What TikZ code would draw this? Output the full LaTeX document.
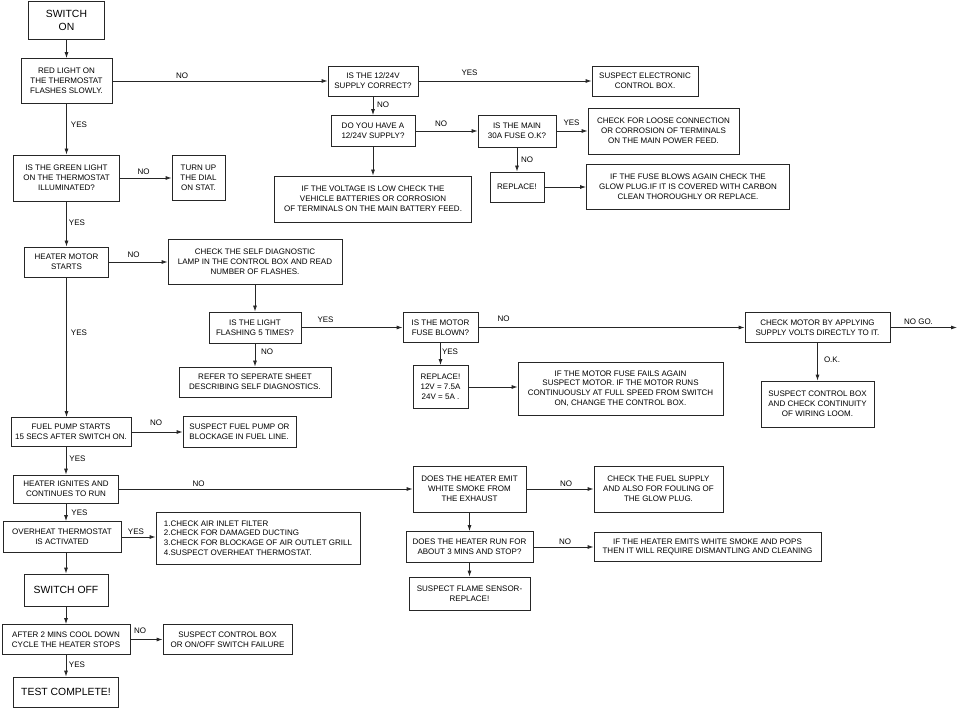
\documentclass[tikz,border=0pt]{standalone}
\usepackage{fontspec}
\setmainfont{Liberation Sans}
\usetikzlibrary{arrows.meta}

\begin{document}
\begin{tikzpicture}[x=1pt,y=1pt,yscale=-1,xscale=1,
    box/.style={draw=black!85, line width=0.8pt, align=center, inner sep=1pt, font=\fontsize{8}{9.8}\selectfont},
    bigbox/.style={box, font=\fontsize{10.4}{13}\selectfont},
    listbox/.style={box, align=left},
    arr/.style={draw=black!85, line width=0.8pt, -{Latex[length=6pt,width=4pt]}},
    lbl/.style={inner sep=0pt, font=\fontsize{8}{9.8}\selectfont}]
    %set diagram size to the reference page
    \useasboundingbox (0,0) rectangle (958,708);

    % Main column
    \node[bigbox, minimum width=76, minimum height=38] (on) at (66.5,20) {SWITCH\\ON};
    \node[box, minimum width=91, minimum height=45] (red) at (66.5,81) {RED LIGHT ON\\THE THERMOSTAT\\FLASHES SLOWLY.};
    \node[box, minimum width=106, minimum height=46] (green) at (66.5,178) {IS THE GREEN LIGHT\\ON THE THERMOSTAT\\ILLUMINATED?};
    \node[box, minimum width=53, minimum height=45] (dial) at (198.5,178) {TURN UP\\THE DIAL\\ON STAT.};
    \node[box, minimum width=84, minimum height=30] (motor) at (66.5,262) {HEATER MOTOR\\STARTS};
    \node[box, minimum width=120, minimum height=29] (fuel) at (71,432) {FUEL PUMP STARTS\\15 SECS AFTER SWITCH ON.};
    \node[listbox, minimum width=113, minimum height=31] (fpump) at (239.5,432) {SUSPECT FUEL PUMP OR\\BLOCKAGE IN FUEL LINE.};
    \node[box, minimum width=105, minimum height=28] (ignite) at (66,489) {HEATER IGNITES AND\\CONTINUES TO RUN};
    \node[box, minimum width=118, minimum height=31] (ovh) at (62,537) {OVERHEAT THERMOSTAT\\IS ACTIVATED};
    \node[listbox, minimum width=204, minimum height=52] (checks) at (258,538) {1.CHECK AIR INLET FILTER\\2.CHECK FOR DAMAGED DUCTING\\3.CHECK FOR BLOCKAGE OF AIR OUTLET GRILL\\4.SUSPECT OVERHEAT THERMOSTAT.};
    \node[bigbox, minimum width=84, minimum height=32] (off) at (66,590) {SWITCH OFF};
    \node[box, minimum width=128, minimum height=30] (cool) at (66,639.5) {AFTER 2 MINS COOL DOWN\\CYCLE THE HEATER STOPS};
    \node[box, minimum width=129, minimum height=30] (onoff) at (227.5,639.5) {SUSPECT CONTROL BOX\\OR ON/OFF SWITCH FAILURE};
    \node[bigbox, minimum width=105, minimum height=30] (done) at (66,692) {TEST COMPLETE!};

    % Supply branch
    \node[box, minimum width=90, minimum height=30] (supply) at (373,81) {IS THE 12/24V\\SUPPLY CORRECT?};
    \node[box, minimum width=106, minimum height=30] (ecb) at (645,81) {SUSPECT ELECTRONIC\\CONTROL BOX.};
    \node[box, minimum width=84, minimum height=31] (have) at (373,131) {DO YOU HAVE A\\12/24V SUPPLY?};
    \node[box, minimum width=78, minimum height=32] (mainfuse) at (517,131) {IS THE MAIN\\30A FUSE O.K?};
    \node[box, minimum width=151, minimum height=46] (loose) at (663.5,131) {CHECK FOR LOOSE CONNECTION\\OR CORROSION OF TERMINALS\\ON THE MAIN POWER FEED.};
    \node[box, minimum width=54, minimum height=30] (rep1) at (517,187) {REPLACE!};
    \node[box, minimum width=203, minimum height=45] (blow) at (688,187) {IF THE FUSE BLOWS AGAIN CHECK THE\\GLOW PLUG.IF IT IS COVERED WITH CARBON\\CLEAN THOROUGHLY OR REPLACE.};
    \node[box, minimum width=197, minimum height=46] (volt) at (373,199) {IF THE VOLTAGE IS LOW CHECK THE\\VEHICLE BATTERIES OR CORROSION\\OF TERMINALS ON THE MAIN BATTERY FEED.};

    % Motor branch
    \node[box, minimum width=174, minimum height=45] (diag) at (255,262) {CHECK THE SELF DIAGNOSTIC\\LAMP IN THE CONTROL BOX AND READ\\NUMBER OF FLASHES.};
    \node[box, minimum width=92, minimum height=31] (five) at (255,327.5) {IS THE LIGHT\\FLASHING 5 TIMES?};
    \node[box, minimum width=152, minimum height=30] (refer) at (255,382) {REFER TO SEPERATE SHEET\\DESCRIBING SELF DIAGNOSTICS.};
    \node[box, minimum width=75, minimum height=30] (mfuse) at (440.5,327.5) {IS THE MOTOR\\FUSE BLOWN?};
    \node[box, minimum width=55, minimum height=43] (rep2) at (440.5,387) {REPLACE!\\12V = 7.5A\\24V = 5A .};
    \node[box, minimum width=205, minimum height=53] (mfail) at (620.5,388.5) {IF THE MOTOR FUSE FAILS AGAIN\\SUSPECT MOTOR. IF THE MOTOR RUNS\\CONTINUOUSLY AT FULL SPEED FROM SWITCH\\ON, CHANGE THE CONTROL BOX.};
    \node[box, minimum width=145, minimum height=30] (cmotor) at (817.5,327.5) {CHECK MOTOR BY APPLYING\\SUPPLY VOLTS DIRECTLY TO IT.};
    \node[box, minimum width=113, minimum height=46] (loom) at (817.5,404) {SUSPECT CONTROL BOX\\AND CHECK CONTINUITY\\OF WIRING LOOM.};
    \coordinate (nogo) at (957,327.5);

    % Ignition branch
    \node[box, minimum width=113, minimum height=46] (smoke) at (469.5,489) {DOES THE HEATER EMIT\\WHITE SMOKE FROM\\THE EXHAUST};
    \node[box, minimum width=129, minimum height=46] (fsup) at (658.5,489) {CHECK THE FUEL SUPPLY\\AND ALSO FOR FOULING OF\\THE GLOW PLUG.};
    \node[box, minimum width=127, minimum height=31] (three) at (469.5,547) {DOES THE HEATER RUN FOR\\ABOUT 3 MINS AND STOP?};
    \node[box, minimum width=227, minimum height=29] (pops) at (707.5,547) {IF THE HEATER EMITS WHITE SMOKE AND POPS\\THEN IT WILL REQUIRE DISMANTLING AND CLEANING};
    \node[box, minimum width=121, minimum height=33] (flame) at (469.5,593.5) {SUSPECT FLAME SENSOR-\\REPLACE!};

    % Arrows
    \draw[arr] (on) -- (red);
    \draw[arr] (red) -- (supply);
    \draw[arr] (red) -- (green);
    \draw[arr] (green) -- (dial);
    \draw[arr] (green) -- (motor);
    \draw[arr] (supply) -- (ecb);
    \draw[arr] (supply) -- (have);
    \draw[arr] (have) -- (mainfuse);
    \draw[arr] (have) -- (volt);
    \draw[arr] (mainfuse) -- (loose);
    \draw[arr] (mainfuse) -- (rep1);
    \draw[arr] (rep1) -- (blow);
    \draw[arr] (motor) -- (diag);
    \draw[arr] (diag) -- (five);
    \draw[arr] (five) -- (mfuse);
    \draw[arr] (five) -- (refer);
    \draw[arr] (mfuse) -- (cmotor);
    \draw[arr] (mfuse) -- (rep2);
    \draw[arr] (rep2.east) -- (rep2.east -| mfail.west);
    \draw[arr] (cmotor) -- (nogo);
    \draw[arr] (cmotor) -- (loom);
    \draw[arr] (motor.south) -- (motor.south |- fuel.north);
    \draw[arr] (fuel) -- (fpump);
    \draw[arr] (ignite.north |- fuel.south) -- (ignite.north);
    \draw[arr] (ignite) -- (smoke);
    \draw[arr] (ignite.south) -- (ignite.south |- ovh.north);
    \draw[arr] (ovh.east) -- (ovh.east -| checks.west);
    \draw[arr] (off.north |- ovh.south) -- (off.north);
    \draw[arr] (smoke) -- (fsup);
    \draw[arr] (smoke) -- (three);
    \draw[arr] (three) -- (pops);
    \draw[arr] (three) -- (flame);
    \draw[arr] (off) -- (cool);
    \draw[arr] (cool) -- (onoff);
    \draw[arr] (cool) -- (done);

    % Labels
    \node[lbl] (lredno) at (182,76) {NO};
    \node[lbl] (lredyes) at (79,125) {YES};
    \node[lbl] (lgrnno) at (143.5,172) {NO};
    \node[lbl] (lgrnyes) at (77,223) {YES};
    \node[lbl] (lsupyes) at (469.5,73) {YES};
    \node[lbl] (lsupno) at (383,105) {NO};
    \node[lbl] (lhaveno) at (441,124) {NO};
    \node[lbl] (lmainyes) at (571.5,123) {YES};
    \node[lbl] (lmainno) at (527,160) {NO};
    \node[lbl] (lmotno) at (133.5,255) {NO};
    \node[lbl] (lmotyes) at (79,333) {YES};
    \node[lbl] (lfiveyes) at (325.5,320) {YES};
    \node[lbl] (lfiveno) at (267,352) {NO};
    \node[lbl] (lmfno) at (503.5,319) {NO};
    \node[lbl] (lmfyes) at (450,352) {YES};
    \node[lbl] (lnogo) at (918.5,322) {NO GO.};
    \node[lbl] (lok) at (832,360) {O.K.};
    \node[lbl] (lfuelno) at (156,423) {NO};
    \node[lbl] (lfuelyes) at (77.5,459) {YES};
    \node[lbl] (lignno) at (198.5,484) {NO};
    \node[lbl] (lignyes) at (79.5,513) {YES};
    \node[lbl] (lovhyes) at (136,532) {YES};
    \node[lbl] (lsmkno) at (566,484) {NO};
    \node[lbl] (lthrno) at (565,542) {NO};
    \node[lbl] (lcoolno) at (140,631) {NO};
    \node[lbl] (lcoolyes) at (77,665) {YES};
\end{tikzpicture}
\end{document}
